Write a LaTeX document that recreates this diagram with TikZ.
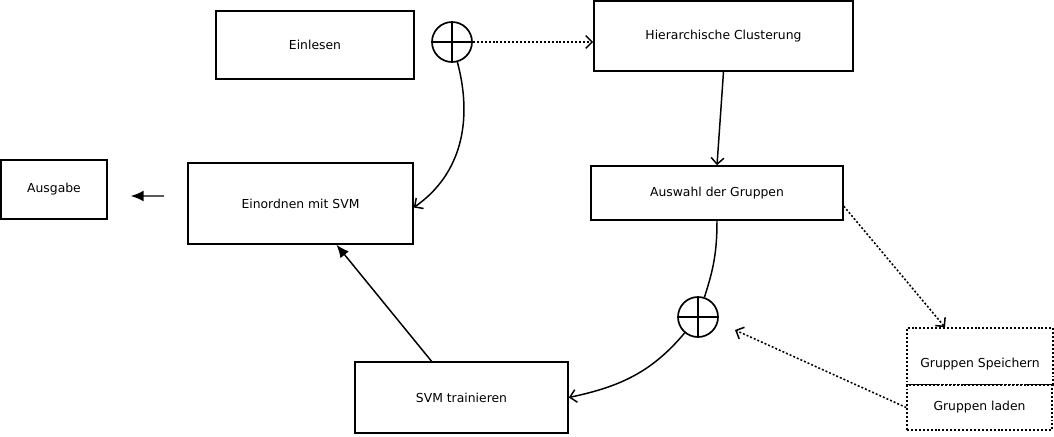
\documentclass[tikz,border=0pt]{standalone}
\usepackage{fontspec}
\setmainfont{DejaVu Sans}
\usepackage{tikz}
\usetikzlibrary{arrows,arrows.meta}
\usetikzlibrary{positioning}
\tikzset{
    box/.style={draw, line width=1.1pt, rectangle, font=\fontsize{8.8}{10}\selectfont},
    dotbox/.style={box, line width=1.1pt, dash pattern=on 1.4pt off 1.4pt},
    junction/.style={draw, circle, line width=1.2pt, minimum size=1cm, inner sep=0pt,
        path picture={\draw[line width=1.2pt] (path picture bounding box.north) -- (path picture bounding box.south)
            (path picture bounding box.west) -- (path picture bounding box.east);}},
    dotline/.style={line width=1.1pt, dash pattern=on 1.4pt off 1.4pt},
    >={Straight Barb[length=1.6mm, width=3.2mm]},
    fill tip/.style={-{Latex[length=3.2mm, width=2.7mm]}}
}

\begin{document}
\begin{tikzpicture}[x=0.025cm, y=-0.025cm, line width=1.05pt]
  \useasboundingbox (0,0) rectangle (1054,436);
  \draw (315,45) node[box, minimum width=4.95cm, minimum height=1.7cm] (einlesen) {Einlesen};
  \draw (452,42) node[junction] (plusA) {};
  \draw (723.5,36) node[box, minimum width=6.475cm, minimum height=1.75cm] (cluster) {Hierarchische Clusterung};
  \draw (717,193) node[box, minimum width=6.3cm, minimum height=1.35cm] (auswahl) {Auswahl der Gruppen};
  \draw (698,317) node[junction] (plusB) {};
  \draw (300.5,203.5) node[box, minimum width=5.625cm, minimum height=2.025cm] (einordnen) {Einordnen mit SVM};
  \draw (461.5,397.5) node[box, minimum width=5.325cm, minimum height=1.775cm] (svm) {SVM trainieren};
  \draw (54,189.5) node[box, minimum width=2.65cm, minimum height=1.475cm] (ausgabe) {Ausgabe};
  \draw (980,356.5) node[dotbox, minimum width=3.65cm, minimum height=1.425cm, text height=0.63cm] (speichern) {Gruppen Speichern};
  \draw (979.5,407.5) node[dotbox, fill=white, minimum width=3.625cm, minimum height=1.125cm] (laden) {Gruppen laden};
  \coordinate (rueck) at (735,330);

  \draw[->, dotline] (plusA.east) -- (plusA.east -| cluster.west);
  \draw[->] (cluster.south) -- (auswahl.north);
  \draw (auswahl.south) to[out=-90, in=72] (plusB.72);
  \draw[->] (plusB.230) to[out=-130, in=12] (svm.east);
  \draw[fill tip] ([xshift=-0.75cm]svm.north) -- ([xshift=0.9cm]einordnen.south);
  \draw[->] (plusA.-75) to[out=-75, in=35] ([yshift=-0.1cm]einordnen.east);
  \draw[fill tip, shorten <=0.575cm, shorten >=0.575cm] ([yshift=0.1875cm]einordnen.west) -- ([yshift=-0.1625cm]ausgabe.east);
  \draw[->, dotline] ([yshift=-0.33cm]auswahl.east) -- ([xshift=-0.875cm]speichern.north);
  \draw[->, dotline] (laden.west) -- (rueck);
\end{tikzpicture}
\end{document}
